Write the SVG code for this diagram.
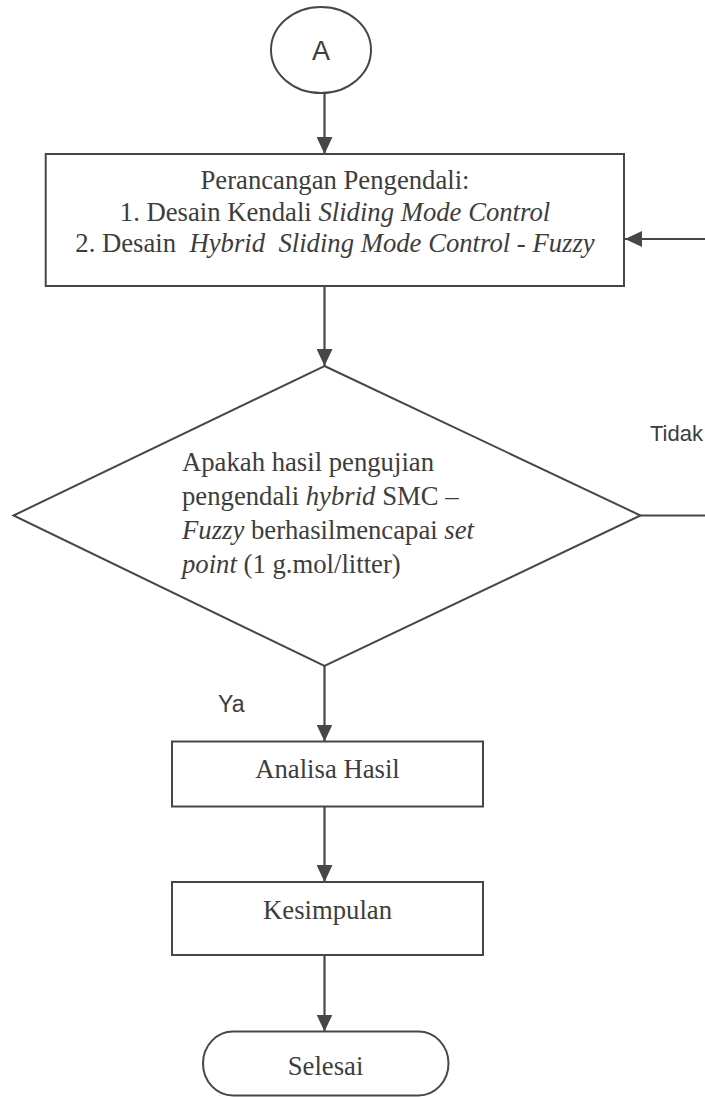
<svg xmlns="http://www.w3.org/2000/svg" width="705" height="1097" viewBox="0 0 705 1097">
<style>
.shape{fill:none;stroke:#474747;stroke-width:2}
.conn{fill:none;stroke:#474747;stroke-width:2.2}
.serif{font-family:"Liberation Serif","Times New Roman",serif;font-size:26.7px;fill:#3d3d3d;white-space:pre}
.sans{font-family:"Liberation Sans",Arial,sans-serif;fill:#3d3d3d}
.it{font-style:italic}
</style>
<defs>
<marker id="ah" markerUnits="userSpaceOnUse" markerWidth="17" markerHeight="16" refX="17" refY="8" orient="auto">
<path d="M0,0 L17,8 L0,16 z" fill="#474747"/>
</marker>
</defs>
<rect width="705" height="1097" fill="#ffffff"/>
<g id="connectors">
<path class="conn" d="M324.5,93 V154" marker-end="url(#ah)"/>
<path class="conn" d="M324.5,287 V366" marker-end="url(#ah)"/>
<path class="conn" d="M324.5,666 V741.5" marker-end="url(#ah)"/>
<path class="conn" d="M324.5,807 V882" marker-end="url(#ah)"/>
<path class="conn" d="M324.5,955 V1031.5" marker-end="url(#ah)"/>
<path class="conn" d="M640.5,515.5 H720 V239 H625" marker-end="url(#ah)"/>
</g>
<g id="nodeA">
<ellipse class="shape" cx="321" cy="50" rx="50" ry="43"/>
<text class="sans" x="321" y="59.5" font-size="27" text-anchor="middle">A</text>
</g>
<g id="perancangan">
<rect class="shape" x="45.7" y="154" width="578.3" height="132"/>
<text class="serif" x="335" y="188.5" text-anchor="middle">Perancangan Pengendali:</text>
<text class="serif" x="335" y="220.5" text-anchor="middle">1. Desain Kendali <tspan class="it">Sliding Mode Control</tspan></text>
<text class="serif" x="335" y="252" text-anchor="middle">2. Desain  <tspan class="it">Hybrid  Sliding Mode Control - Fuzzy</tspan></text>
</g>
<g id="decision">
<polygon class="shape" points="324.5,366 640.5,515.5 324.5,666 13.5,515.5"/>
<text class="serif" x="182" y="471">Apakah hasil pengujian</text>
<text class="serif" x="182" y="505">pengendali <tspan class="it">hybrid</tspan> SMC –</text>
<text class="serif" x="182" y="539"><tspan class="it">Fuzzy</tspan> berhasilmencapai <tspan class="it">set</tspan></text>
<text class="serif" x="182" y="573"><tspan class="it">point</tspan> (1 g.mol/litter)</text>
</g>
<g id="labels">
<text class="sans" x="650" y="440.5" font-size="22">Tidak</text>
<text class="sans" x="218" y="711.5" font-size="23">Ya</text>
</g>
<g id="analisa">
<rect class="shape" x="172" y="741.5" width="311" height="65"/>
<text class="serif" x="327.5" y="778" text-anchor="middle">Analisa Hasil</text>
</g>
<g id="kesimpulan">
<rect class="shape" x="172" y="882" width="311" height="73"/>
<text class="serif" x="327.5" y="919" text-anchor="middle">Kesimpulan</text>
</g>
<g id="selesai">
<rect class="shape" x="203" y="1031.5" width="245.5" height="64" rx="30" ry="32"/>
<text class="serif" x="325.5" y="1075" text-anchor="middle">Selesai</text>
</g>
</svg>
